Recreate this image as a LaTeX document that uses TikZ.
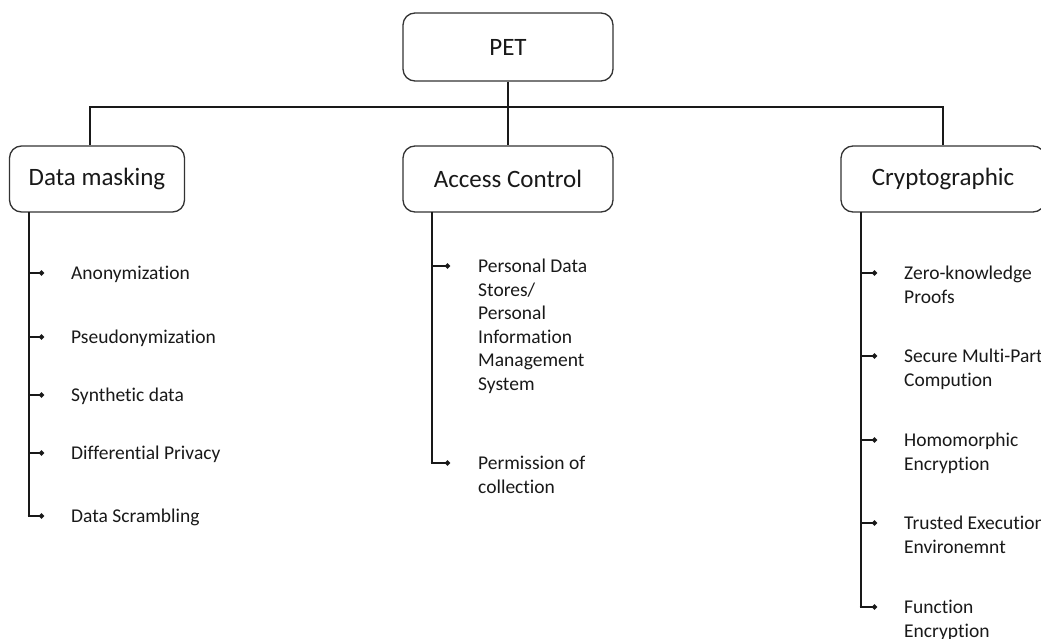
\documentclass[tikz,border=0pt]{standalone}
\usepackage{fontspec}
\setmainfont[Ligatures=NoCommon]{Carlito}
\usetikzlibrary{arrows.meta}

\newcommand{\leafstack}[1]{\begin{tabular}[t]{@{}l@{}}#1\end{tabular}}

\tikzset{
  catbox/.style={draw=black!80, line width=1.3pt, rounded corners=12pt, fill=white,
    minimum height=66pt, inner sep=0pt, font=\fontsize{25}{30}\selectfont, text=black!90},
  tree/.style={line width=2.8pt, black!90},
  tick/.style={line width=2pt, black!90, -{Circle[length=5pt]}},
  item/.style={anchor=base west, inner sep=0pt,
    font=\fontsize{19.5}{23.5}\selectfont, text=black!90}
}

\begin{document}
\begin{tikzpicture}[x=1pt,y=-1pt]
\useasboundingbox (0,0) rectangle (1041,639);
\clip (0,0) rectangle (1041,639);

% top level
\node[catbox, minimum width=210pt, minimum height=68pt] (pet) at (508,47) {PET};
\node[catbox, minimum width=175pt] (mask) at (97,179) {Data masking};
\node[catbox, minimum width=210pt] (access) at (508,179) {Access Control};
\node[catbox, minimum width=204pt] (crypto) at (943,179) {Cryptographic};

\coordinate (bar) at (508,107);
\draw[tree] (pet.south) -- (bar);
\draw[tree] ([xshift=-7pt]mask.north) |- (bar) -| (crypto.north);
\draw[tree] (bar) -- (access.north);

% data masking
\coordinate (maskRoot) at (29,212);
\coordinate (anonDot) at (44,273);
\coordinate (pseudoDot) at (44,337);
\coordinate (synthDot) at (44,395);
\coordinate (diffDot) at (44,453);
\coordinate (scramDot) at (44,516);
\draw[tree] (maskRoot) -- (maskRoot |- scramDot);
\draw[tick] (maskRoot |- anonDot) -- (anonDot);
\draw[tick] (maskRoot |- pseudoDot) -- (pseudoDot);
\draw[tick] (maskRoot |- synthDot) -- (synthDot);
\draw[tick] (maskRoot |- diffDot) -- (diffDot);
\draw[tick] ([xshift=-1.4pt]maskRoot |- scramDot) -- (scramDot);

\node[item] (anon) at ([shift={(27,6.5)}]anonDot) {Anonymization};
\node[item] (pseudo) at ([shift={(27,6.5)}]pseudoDot) {Pseudonymization};
\node[item] (synth) at ([shift={(27,6.5)}]synthDot) {Synthetic data};
\node[item] (diff) at ([shift={(27,6.5)}]diffDot) {Differential Privacy};
\node[item] (scram) at ([shift={(27,6.5)}]scramDot) {Data Scrambling};

% access control
\coordinate (accRoot) at (432,212);
\coordinate (pdsDot) at (450,266);
\coordinate (permDot) at (450,463);
\draw[tree] (accRoot) -- (accRoot |- permDot);
\draw[tick] (accRoot |- pdsDot) -- (pdsDot);
\draw[tick] ([xshift=-1.4pt]accRoot |- permDot) -- (permDot);

\node[item] (pds) at ([shift={(28,6.5)}]pdsDot)
  {\leafstack{Personal Data\\Stores/\\Personal\\Information\\Management\\System}};
\node[item] (perm) at ([shift={(28,6.5)}]permDot) {\leafstack{Permission of\\collection}};

% cryptographic
\coordinate (cryRoot) at (861,212);
\coordinate (zkpDot) at (877,273);
\coordinate (mpcDot) at (877,356);
\coordinate (heDot) at (877,440);
\coordinate (teeDot) at (877,523);
\coordinate (feDot) at (877,607);
\draw[tree] (cryRoot) -- (cryRoot |- feDot);
\draw[tick] (cryRoot |- zkpDot) -- (zkpDot);
\draw[tick] (cryRoot |- mpcDot) -- (mpcDot);
\draw[tick] (cryRoot |- heDot) -- (heDot);
\draw[tick] (cryRoot |- teeDot) -- (teeDot);
\draw[tick] ([xshift=-1.4pt]cryRoot |- feDot) -- (feDot);

\node[item] (zkp) at ([shift={(27,6.5)}]zkpDot) {\leafstack{Zero-knowledge\\Proofs}};
\node[item] (mpc) at ([shift={(27,6.5)}]mpcDot) {\leafstack{Secure Multi-Party\\Compution}};
\node[item] (he) at ([shift={(27,6.5)}]heDot) {\leafstack{Homomorphic\\Encryption}};
\node[item] (tee) at ([shift={(27,6.5)}]teeDot) {\leafstack{Trusted Execution\\Environemnt}};
\node[item] (fe) at ([shift={(27,6.5)}]feDot) {\leafstack{Function\\Encryption}};
\end{tikzpicture}
\end{document}
